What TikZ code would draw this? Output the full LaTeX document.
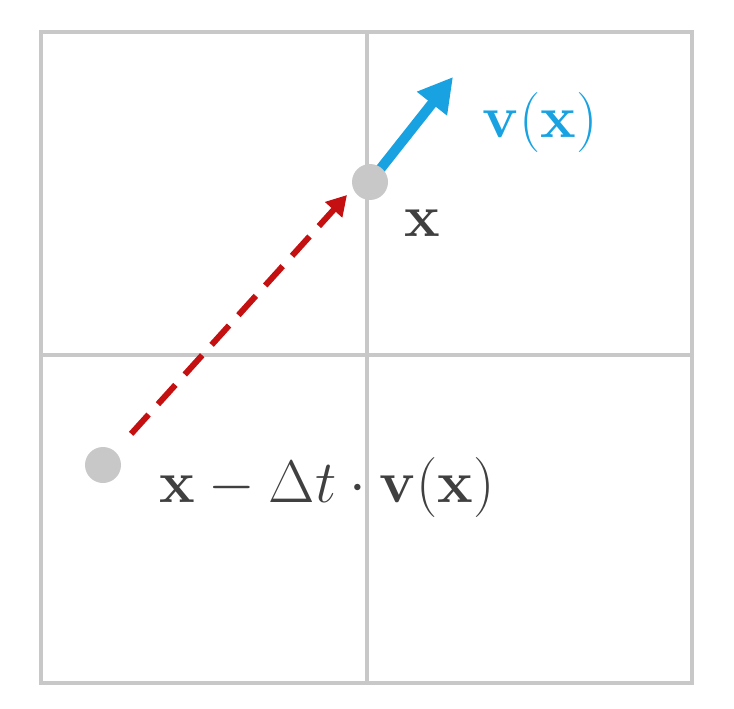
\documentclass[tikz,border=0pt]{standalone}
\usepackage{fix-cm}
\usepackage{amsmath,amssymb}
\usepackage{tikz}
\usetikzlibrary{positioning,arrows.meta,calc}
\usepackage{xcolor}
\definecolor{gridgray}{RGB}{200,200,200}
\definecolor{velblue}{RGB}{24,162,226}
\definecolor{backred}{RGB}{196,16,16}
\definecolor{textgray}{RGB}{64,64,64}
\tikzset{
  gridline/.style={draw=gridgray,line width=4pt},
  dot/.style={circle,fill=gridgray,minimum size=36pt,inner sep=0pt},
  velarrow/.style={velblue,line width=10pt,-{Triangle[length=34pt,width=36pt]}},
  backarrow/.style={backred,line width=6pt,dash pattern=on 26pt off 14pt,-{Triangle[length=20pt,width=22pt]}},
  lbl/.style={font=\fontsize{60}{64}\selectfont,inner sep=0pt},
}

\begin{document}
\begin{tikzpicture}[x=1pt,y=-1pt]
\useasboundingbox (0,0) rectangle (734,709);
% grid
\draw[gridline] (41,32) rectangle (692,683);
\draw[gridline] (367,32) -- (367,683);
\draw[gridline] (41,355) -- (692,355);

\coordinate (x) at (370,182);
\coordinate (x0) at (103,465);
\coordinate (vtip) at (453,77);
\coordinate (btip) at (347,195);

\draw[velarrow] (x) -- (vtip);
\draw[backarrow,shorten <=42pt] (x0) -- (btip);

\node[dot] (px) at (x) {};
\node[dot] (px0) at (x0) {};

\node[lbl,text=velblue] (vlbl) at (540,123) {$\mathbf{v}(\mathbf{x})$};
\node[lbl,text=textgray] (xlbl) at (422,223) {$\mathbf{x}$};
\node[lbl,text=textgray,anchor=base] (backlbl) at (327,502) {$\mathbf{x}-\Delta t\cdot\mathbf{v}(\mathbf{x})$};
\end{tikzpicture}
\end{document}
